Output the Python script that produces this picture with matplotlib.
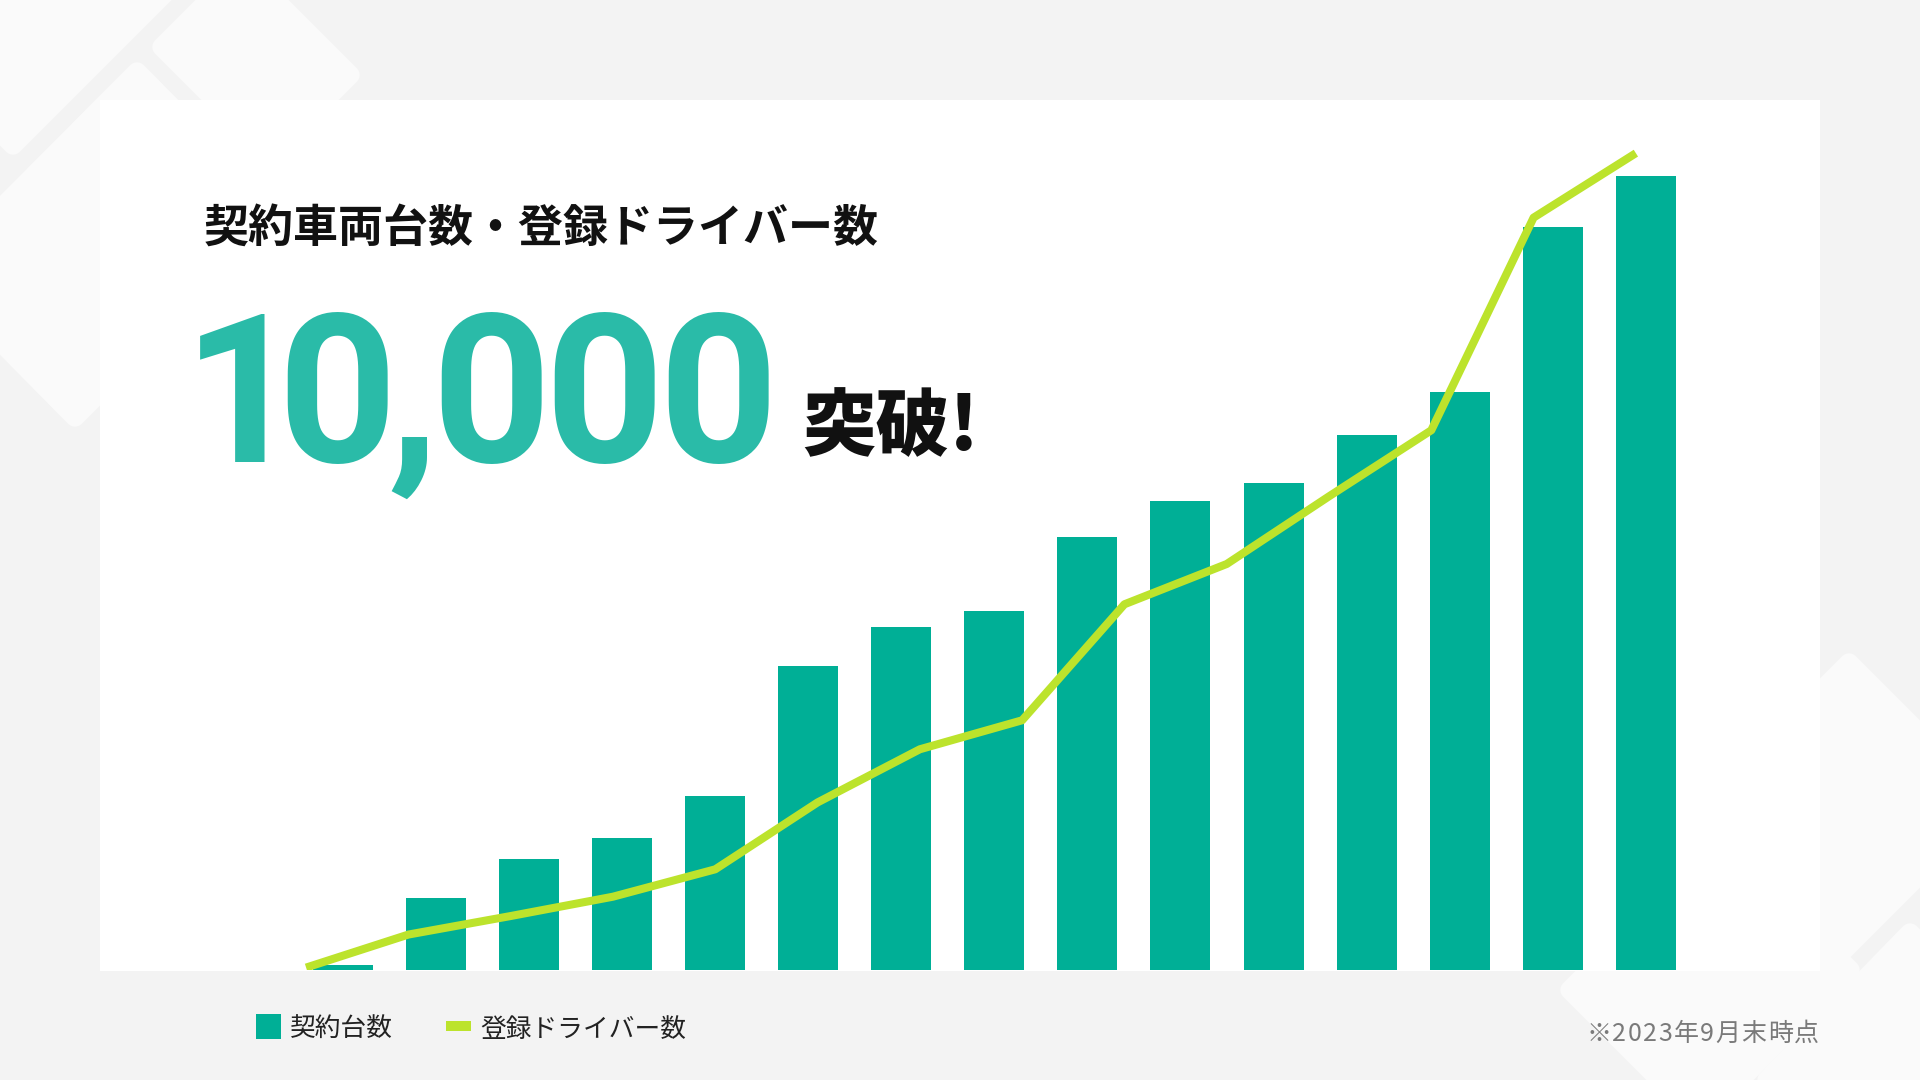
import matplotlib
matplotlib.use("Agg")
import matplotlib.pyplot as plt
from matplotlib.patches import Polygon, Rectangle

plt.rcParams['font.family'] = ['Noto Sans CJK JP', 'DejaVu Sans']

# data (same unit for both series, last bar + last point = 10,000)
periods = list(range(15))
vehicles = [30, 450, 690, 820, 1080, 1890, 2130, 2230, 2690, 2910, 3020, 3320, 3590, 4610, 4930]
driver_periods = list(range(14))
drivers = [15, 220, 335, 455, 625, 1040, 1370, 1550, 2270, 2520, 2940, 3350, 4670, 5070]

title = "契約車両台数・登録ドライバー数"
headline = "10,000"
headline_suffix = "突破!"
legend_labels = ["契約台数", "登録ドライバー数"]
note = "※2023年9月末時点"

TEAL = "#00af96"
LIME = "#bce32c"
HEAD = "#2abba8"
BG = "#f3f3f3"
SHAPE = "#fafafa"

W, H = 1920, 1080
fig = plt.figure(figsize=(19.2, 10.8), dpi=100, facecolor=BG)
renderer = fig.canvas.get_renderer()

# background layer in pixel coordinates
bg = fig.add_axes([0, 0, 1, 1])
bg.set_xlim(0, W)
bg.set_ylim(H, 0)
bg.axis('off')

shapes = [
    [(13, 145), (263, -105), (13, -355), (-237, -105)],
    [(162, 47), (242, -33), (350, 75), (270, 155)],
    [(137, 72), (-65, 275), (75, 417), (277, 214)],
    [(1849, 663), (1990, 804), (1787, 1007), (1646, 866)],
    [(1570, 990), (1720, 840), (1850, 970), (1700, 1120)],
    [(1910, 933), (2100, 1123), (1910, 1313), (1767, 1080)],
]
for pts in shapes:
    bg.add_patch(Polygon(pts, closed=True, fc=SHAPE, ec=SHAPE, lw=14, joinstyle='round'))

# white card
bg.add_patch(Rectangle((100, 100), 1720, 871, fc='white', ec='none'))


def spaced_text(chars, x_left, x_right, y, **kw):
    # lay out single characters so the run fills x_left..x_right
    items = [bg.text(0, y, c, va='baseline', **kw) for c in chars]
    widths = [t.get_window_extent(renderer).width for t in items]
    gap = (x_right - x_left - sum(widths)) / (len(items) - 1)
    x = x_left
    for t, w in zip(items, widths):
        t.set_x(x)
        x += w + gap


# chart
ax = fig.add_axes([100 / W, (H - 970) / H, 1720 / W, 870 / H])
ax.patch.set_alpha(0)
ax.bar(periods, vehicles, width=0.645, color=TEAL, zorder=2)
ax.set_xlim(-2.61, 15.872)
ax.set_ylim(0, 5400)
ax.axis('off')

ax2 = ax.twiny()
ax2.plot(driver_periods, drivers, color=LIME, lw=5.8,
         solid_capstyle='butt', solid_joinstyle='round', zorder=3)
ax2.set_xlim(-2.015, 14.80)
ax2.set_ylim(0, 5400)
ax2.axis('off')

# headings
bg.text(204, 242, title, fontsize=32.4, fontweight='bold', color='#111111', va='baseline')

# big number: glyphs set a little tighter than the font's own spacing
headline_x = [243, 337, 413, 491, 604, 718]
for ch, x in zip(headline, headline_x):
    bg.text(x, 462, ch, fontsize=150, fontweight='bold', color=HEAD, ha='center',
            va='baseline', family=['Roboto', 'DejaVu Sans'])

bg.text(802, 450, headline_suffix, fontsize=53, fontweight='heavy', color='#111111', va='baseline')

# legend
bg.add_patch(Rectangle((256, 1014), 25, 25, fc=TEAL, ec='none'))
bg.text(290, 1037, legend_labels[0], fontsize=18.5, color='#222222', va='baseline')
bg.add_patch(Rectangle((446, 1021), 25, 10, fc=LIME, ec='none'))
bg.text(480, 1037, legend_labels[1], fontsize=18.5, color='#222222', va='baseline')

# footnote
spaced_text(note, 1586, 1819, 1041, fontsize=18, color='#7a7a7a')

fig.savefig('out.png', dpi=100, facecolor=BG)
